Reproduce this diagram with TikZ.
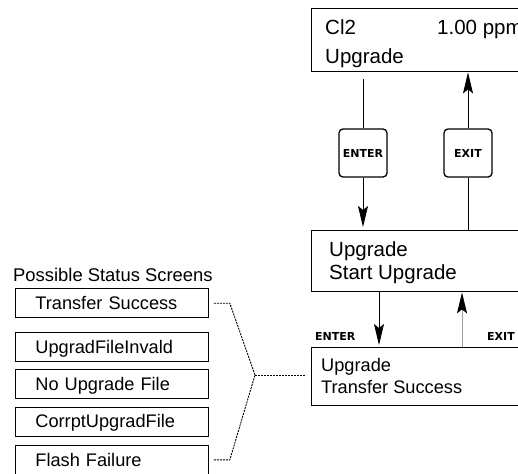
\documentclass[tikz,border=0pt]{standalone}
\usepackage{fontspec}
\setmainfont{Liberation Sans}
\newfontfamily\btnfont{DejaVu Sans}
\usetikzlibrary{arrows.meta}
\begin{document}
\begin{tikzpicture}[x=1pt,y=-1pt,
  screen/.style={draw, line width=1.4pt, inner sep=0pt, anchor=north west},
  bigtxt/.style={inner sep=0pt, anchor=base west, font=\fontsize{20.5}{24}\selectfont},
  midtxt/.style={inner sep=0pt, anchor=base west, font=\fontsize{18.2}{22}\selectfont},
  btn/.style={draw, line width=1.3pt, rounded corners=4pt, minimum width=48pt, minimum height=48pt, inner sep=0pt, font=\btnfont\bfseries\fontsize{11}{13}\selectfont},
  keylbl/.style={inner sep=0pt, anchor=base west, font=\btnfont\bfseries\fontsize{11}{13}\selectfont},
  listbox/.style={draw, line width=0.8pt, anchor=north west, minimum width=193pt, minimum height=29pt, text width=153pt, inner xsep=20pt, inner ysep=0pt, align=left, text height=13pt, text depth=0pt, font=\fontsize{18.2}{22}\selectfont},
  conn/.style={line width=0.9pt},
  arr/.style={line width=0.9pt, -{Stealth[length=21pt, width=10pt, inset=4pt, color=black]}},
  dotline/.style={line width=0.9pt, dash pattern=on 2pt off 1pt}]
\useasboundingbox (0,0) rectangle (518,473);
\clip (0,0) rectangle (518,473);
% screens
\node[screen, minimum width=250pt, minimum height=63pt] (topbox) at (311,8) {};
\node[screen, minimum width=250pt, minimum height=61pt] (midbox) at (311,230) {};
\node[screen, minimum width=250pt, minimum height=58pt] (botbox) at (311,347) {};
\node[bigtxt] (t1) at (325,34.3) {Cl2};
\node[bigtxt] (t2) at (437,34.3) {1.00 ppm};
\node[bigtxt] (t3) at (325,64) {Upgrade};
\node[bigtxt] (m1) at (329,256) {Upgrade};
\node[bigtxt] (m2) at (329,279.3) {Start Upgrade};
\node[midtxt] (b1) at (321,371.7) {Upgrade};
\node[midtxt] (b2) at (321,393.3) {Transfer Success};
% buttons
\node[btn] (enterbtn) at (363,153) {ENTER};
\node[btn] (exitbtn) at (468,153) {EXIT};
\draw[conn] ([yshift=-7pt]topbox.south -| enterbtn) -- (enterbtn.north);
\draw[arr] (enterbtn.south) -- ([yshift=3pt]midbox.north -| enterbtn);
\draw[conn] (midbox.north -| exitbtn) -- (exitbtn.south);
\draw[arr] (exitbtn.north) -- (topbox.south -| exitbtn);
% lower arrows
\coordinate (dn) at (379,0);
\coordinate (up) at (462,0);
\draw[arr] (midbox.south -| dn) -- ([yshift=2pt]botbox.north -| dn);
\draw[arr, draw=gray!75] (botbox.north -| up) -- (midbox.south -| up);
\node[keylbl] (enterlbl) at (315,340.7) {ENTER};
\node[keylbl] (exitlbl) at (487,340.7) {EXIT};
% status list
\node[inner sep=0pt, anchor=base west, font=\fontsize{18.4}{22}\selectfont] (head) at (13,281.7) {Possible Status Screens};
\node[listbox] (s1) at (15,288.3) {Transfer Success};
\node[listbox] (s2) at (15,331.7) {UpgradFileInvald};
\node[listbox] (s3) at (15,369) {No Upgrade File};
\node[listbox] (s4) at (15,406.5) {CorrptUpgradFile};
\node[listbox] (s5) at (15,445) {Flash Failure};
\coordinate (junc) at (255,375);
\draw[dotline] ([xshift=5pt]s1.east) -- ++(16,0) -- (junc);
\draw[dotline] ([xshift=5pt]s5.east) -- ++(16,0) -- (junc);
\draw[dotline] (junc) -- ([xshift=-5pt]botbox.west |- junc);
\end{tikzpicture}
\end{document}
